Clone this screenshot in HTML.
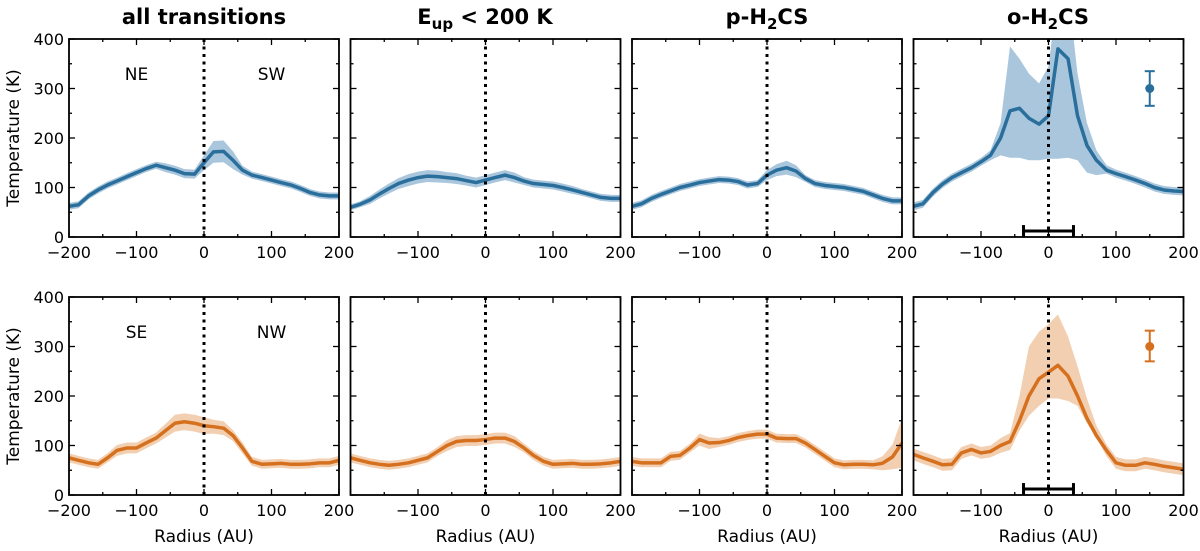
<!DOCTYPE html>
<html><head><meta charset="utf-8">
<style>
body{margin:0;background:#fff;}
svg{display:block;font-family:"DejaVu Sans","Liberation Sans",sans-serif;}
</style></head>
<body>
<svg id="chart" width="1200" height="551" viewBox="0 0 1200 551" xmlns="http://www.w3.org/2000/svg">
<text x="204" y="24" font-size="21" font-weight="bold" text-anchor="middle">all transitions</text>
<text x="485" y="24" font-size="21" font-weight="bold" text-anchor="middle">E<tspan font-size="15" dy="5">up</tspan><tspan dy="-5"> &lt; 200 K</tspan></text>
<text x="767" y="24" font-size="21" font-weight="bold" text-anchor="middle">p-H<tspan font-size="15" dy="5">2</tspan><tspan dy="-5">CS</tspan></text>
<text x="1048" y="24" font-size="21" font-weight="bold" text-anchor="middle">o-H<tspan font-size="15" dy="5">2</tspan><tspan dy="-5">CS</tspan></text>
</svg>
<script>
const radius=[-200,-186,-171,-157,-143,-129,-114,-100,-86,-71,-57,-43,-29,-14,0,14,29,43,57,71,86,100,114,129,143,157,171,186,200];
const xTicks=[-200,-100,0,100,200];
const yTicks=[0,100,200,300,400];
// top row (blue)
const topAll=[62,65,83,95,105,113,122,130,138,145,140,135,128,127,150,172,173,155,135,125,120,115,110,105,98,90,85,83,83];
const topAllErr=[7,7,7,7,7,7,7,7,7,7,9,9,9,9,15,22,22,18,9,7,7,7,7,7,7,7,7,7,7];
const topEup=[60,66,75,87,98,108,115,120,123,122,120,118,114,110,115,120,125,120,113,108,106,104,100,95,90,85,80,78,78];
const topEupErr=[6,6,8,9,10,11,12,12,12,12,11,11,10,10,10,10,10,10,8,8,8,8,8,8,7,7,7,7,7];
const topPara=[62,67,78,86,93,100,105,110,113,116,115,112,105,108,125,135,140,133,118,108,104,102,100,96,92,85,78,73,73];
const topParaErr=[7,7,7,7,7,7,7,7,7,7,7,7,7,7,10,12,14,12,7,7,7,7,7,7,7,7,7,7,7];
const topOrtho=[62,67,90,107,120,130,140,152,165,200,255,260,240,228,245,380,360,245,185,155,135,128,122,115,108,100,95,93,92];
const topOrthoHi=[70,75,98,115,128,138,148,160,175,230,385,360,330,310,345,500,500,330,230,175,145,136,130,123,116,108,103,101,100];
const topOrthoLo=[54,59,82,99,112,122,132,144,155,165,160,160,155,155,158,158,160,155,130,125,128,120,114,107,100,92,87,85,84];
// bottom row (orange)
const botAll=[75,70,65,62,75,90,95,95,105,115,130,145,148,145,140,138,135,120,95,68,62,63,64,62,62,63,65,65,70];
const botAllErr=[9,9,9,9,9,11,11,11,11,11,14,17,17,17,17,14,14,11,11,9,9,9,9,9,9,9,9,9,9];
const botEup=[75,70,65,62,60,62,65,70,75,88,100,108,110,110,112,115,115,108,95,80,68,62,63,64,62,62,63,65,68];
const botEupErr=[9,9,9,9,9,9,9,9,9,9,11,11,11,11,11,11,11,11,9,9,9,9,9,9,9,9,9,9,9];
const botPara=[68,65,65,65,78,80,95,112,105,106,110,116,120,123,123,115,114,114,105,92,78,65,61,62,62,61,64,77,105];
const botParaErr=[9,9,9,9,9,9,9,12,12,9,9,9,9,9,9,9,9,9,9,9,9,9,9,9,9,9,14,25,50];
const botOrtho=[82,75,68,61,62,85,92,85,88,100,108,150,200,235,248,262,240,200,155,120,90,65,60,60,65,62,58,55,52];
const botOrthoHi=[94,87,80,73,74,97,104,97,100,115,125,200,300,330,345,365,320,260,195,140,102,77,72,72,77,74,70,67,64];
const botOrthoLo=[70,63,56,49,50,73,80,73,76,85,91,130,160,180,195,195,190,180,145,115,78,53,48,48,53,50,46,43,40];
const errBarBlue=[150,300,265,335];
const errBarOrange=[150,300,270,332];
const beamSize=[-37,37,12];

const NS='http://www.w3.org/2000/svg';
const svg=document.getElementById('chart');
const BLUE='#2a6e9c',BLUEF='#a9c6dc',OR='#d5701f',ORF='#f3cfb1';
const lefts=[69,350.5,632,913.5],W=270;
const tops=[39,297],H=198;
function el(t,a,p){const e=document.createElementNS(NS,t);for(const k in a)e.setAttribute(k,a[k]);(p||svg).appendChild(e);return e;}
const panels=[
 {r:0,c:0,y:topAll,lo:topAll.map((v,i)=>v-topAllErr[i]),hi:topAll.map((v,i)=>v+topAllErr[i]),n:'all-transitions-top'},
 {r:0,c:1,y:topEup,lo:topEup.map((v,i)=>v-topEupErr[i]),hi:topEup.map((v,i)=>v+topEupErr[i]),n:'eup-top'},
 {r:0,c:2,y:topPara,lo:topPara.map((v,i)=>v-topParaErr[i]),hi:topPara.map((v,i)=>v+topParaErr[i]),n:'para-top'},
 {r:0,c:3,y:topOrtho,lo:topOrthoLo,hi:topOrthoHi,n:'ortho-top'},
 {r:1,c:0,y:botAll,lo:botAll.map((v,i)=>v-botAllErr[i]),hi:botAll.map((v,i)=>v+botAllErr[i]),n:'all-transitions-bottom'},
 {r:1,c:1,y:botEup,lo:botEup.map((v,i)=>v-botEupErr[i]),hi:botEup.map((v,i)=>v+botEupErr[i]),n:'eup-bottom'},
 {r:1,c:2,y:botPara,lo:botPara.map((v,i)=>v-botParaErr[i]),hi:botPara.map((v,i)=>v+botParaErr[i]),n:'para-bottom'},
 {r:1,c:3,y:botOrtho,lo:botOrthoLo,hi:botOrthoHi,n:'ortho-bottom'}
];
panels.forEach((p,k)=>{
 const L=lefts[p.c],T=tops[p.r];
 const sx=v=>L+(v+200)/400*W, sy=v=>T+H-v/400*H;
 const g=el('g',{});
 
 
 const cp=el('clipPath',{id:'cp'+k},g);el('rect',{x:L,y:T,width:W,height:H},cp);
 const col=p.r?OR:BLUE, fc=p.r?ORF:BLUEF;
 let d='M'+radius.map((x,i)=>sx(x)+','+sy(p.hi[i])).join('L');
 for(let i=radius.length-1;i>=0;i--)d+='L'+sx(radius[i])+','+sy(p.lo[i]);
 const b=el('path',{d:d+'Z',fill:fc,'clip-path':'url(#cp'+k+')'},g);
 
 
 const ln=el('polyline',{points:radius.map((x,i)=>sx(x)+','+sy(p.y[i])).join(' '),fill:'none',stroke:col,'stroke-width':3.5,'stroke-linejoin':'round','clip-path':'url(#cp'+k+')'},g);
 
 
 const z=el('line',{x1:sx(0),x2:sx(0),y1:T,y2:T+H,stroke:'#000','stroke-width':3,'stroke-dasharray':'3,4.5'},g);
 
 
 for(let v=-200;v<=200;v+=50){const len=v%100===0?6:3;el('line',{x1:sx(v),x2:sx(v),y1:T+H,y2:T+H-len,stroke:'#000','stroke-width':1.3},g);el('line',{x1:sx(v),x2:sx(v),y1:T,y2:T+len,stroke:'#000','stroke-width':1.3},g);}
 for(let v=0;v<=400;v+=50){const len=v%100===0?6:3;el('line',{x1:L,x2:L+len,y1:sy(v),y2:sy(v),stroke:'#000','stroke-width':1.3},g);el('line',{x1:L+W,x2:L+W-len,y1:sy(v),y2:sy(v),stroke:'#000','stroke-width':1.3},g);}
 el('rect',{x:L,y:T,width:W,height:H,fill:'none',stroke:'#000','stroke-width':1.8},g);
 xTicks.forEach(v=>{if(p.c>0&&v===-200)return;const t=el('text',{x:sx(v),y:T+H+21,'font-size':16,'text-anchor':'middle'},g);t.textContent=(v<0?'\u2212'+(-v):v);
  });
 if(p.c===0){
  yTicks.forEach(v=>{const t=el('text',{x:L-5,y:sy(v)+6,'font-size':16,'text-anchor':'end'},g);t.textContent=v;
   });
  const yl=el('text',{x:0,y:0,'font-size':17,'text-anchor':'middle',transform:'translate(19,'+(T+H/2)+') rotate(-90)'},g);yl.textContent='Temperature (K)';
  
  const a=el('text',{x:sx(-100),y:T+41,'font-size':17,'text-anchor':'middle'},g);a.textContent=p.r?'SE':'NE';
  
  const c=el('text',{x:sx(100),y:T+41,'font-size':17,'text-anchor':'middle'},g);c.textContent=p.r?'NW':'SW';
  
 }
 if(p.r===1){const xl=el('text',{x:L+W/2,y:542,'font-size':17,'text-anchor':'middle'},g);xl.textContent='Radius (AU)';
  }
 if(p.c===3){
  const eb=p.r?errBarOrange:errBarBlue;
  const eg=el('g',{},g);
  
  
  el('line',{x1:sx(eb[0]),x2:sx(eb[0]),y1:sy(eb[2]),y2:sy(eb[3]),stroke:col,'stroke-width':2},eg);
  [eb[2],eb[3]].forEach(v=>el('line',{x1:sx(eb[0])-5,x2:sx(eb[0])+5,y1:sy(v),y2:sy(v),stroke:col,'stroke-width':2},eg));
  el('circle',{cx:sx(eb[0]),cy:sy(eb[1]),r:4.5,fill:col},eg);
  const bg=el('g',{},g);
  
  
  el('line',{x1:sx(beamSize[0]),x2:sx(beamSize[1]),y1:sy(beamSize[2]),y2:sy(beamSize[2]),stroke:'#000','stroke-width':3},bg);
  beamSize.slice(0,2).forEach(v=>el('line',{x1:sx(v),x2:sx(v),y1:sy(beamSize[2])-6,y2:sy(beamSize[2])+6,stroke:'#000','stroke-width':3},bg));
 }
});
</script>
</body></html>
